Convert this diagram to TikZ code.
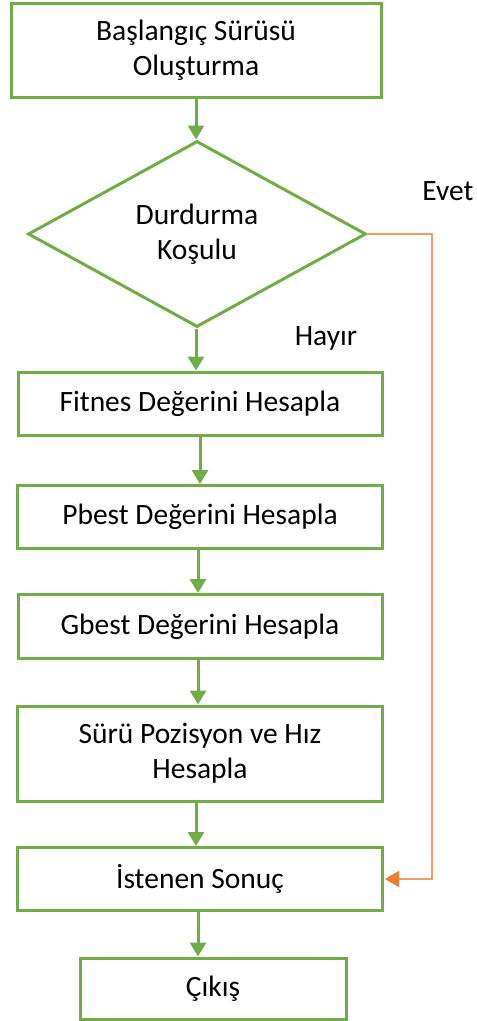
\documentclass[tikz,border=0pt]{standalone}
\usepackage{fontspec}
\setmainfont{Carlito}
\usetikzlibrary{shapes.geometric,arrows.meta}
\definecolor{flowgreen}{HTML}{70AD47}
\definecolor{floworange}{HTML}{ED7D31}
\tikzset{
  x=1pt, y=-1pt,
  lbl/.style={font=\fontsize{29.5}{35}\selectfont, text=black, align=center},
  procbox/.style={lbl, draw=flowgreen, line width=3pt, rectangle, inner sep=0pt},
  decision/.style={lbl, draw=flowgreen, line width=3pt, diamond, inner sep=0pt,
    minimum width=338pt, minimum height=186pt},
  flow/.style={draw=flowgreen, line width=3pt,
    -{Triangle[width=16pt,length=14pt]}},
  yesflow/.style={draw=floworange!75, line width=1.4pt,
    -{Triangle[width=16pt,length=14pt,color=floworange]}},
}
\begin{document}
\begin{tikzpicture}
\useasboundingbox (0,0) rectangle (477,1021);

% process chain
\node[procbox, minimum width=370pt, minimum height=94pt] (start) at (196,50)
  {Başlangıç Sürüsü\\Oluşturma};
\node[decision] (cond) at (197,234) {Durdurma\\Koşulu};
\node[procbox, minimum width=364pt, minimum height=63pt] (fit) at (200,403.5)
  {Fitnes Değerini Hesapla};
\node[procbox, minimum width=365pt, minimum height=63pt] (pbest) at (200,517)
  {Pbest Değerini Hesapla};
\node[procbox, minimum width=364pt, minimum height=64pt] (gbest) at (200,626.5)
  {Gbest Değerini Hesapla};
\node[procbox, minimum width=365pt, minimum height=95pt] (swarm) at (200,753.5)
  {Sürü Pozisyon ve Hız\\Hesapla};
\node[procbox, minimum width=365pt, minimum height=63pt] (result) at (200,879)
  {İstenen Sonuç};
\node[procbox, minimum width=266pt, minimum height=61pt] (exit) at (213,988.5)
  {Çıkış};

% branch labels
\node[lbl] (yes) at (448,191) {Evet};
\node[lbl] (no) at (326,338) {Hayır};

% connectors
\draw[flow] (start.south) -- (start.south |- cond.north);
\draw[flow] ([xshift=-1pt]cond.south) -- ([xshift=-1pt]cond.south |- fit.north);
\draw[flow] (fit.south) -- (pbest.north);
\draw[flow] ([xshift=-2pt]pbest.south) -- ([xshift=-2pt]gbest.north);
\draw[flow] ([xshift=-2pt]gbest.south) -- ([xshift=-2pt]swarm.north);
\draw[flow] ([xshift=-4pt]swarm.south) -- ([xshift=-4pt]result.north);
\draw[flow] ([xshift=-2pt]result.south) -- ([xshift=-2pt]result.south |- exit.north);
\coordinate (turn) at (432,234);
\draw[yesflow] (cond.east) -- (turn) |- ([xshift=1pt]result.east);
\end{tikzpicture}
\end{document}
